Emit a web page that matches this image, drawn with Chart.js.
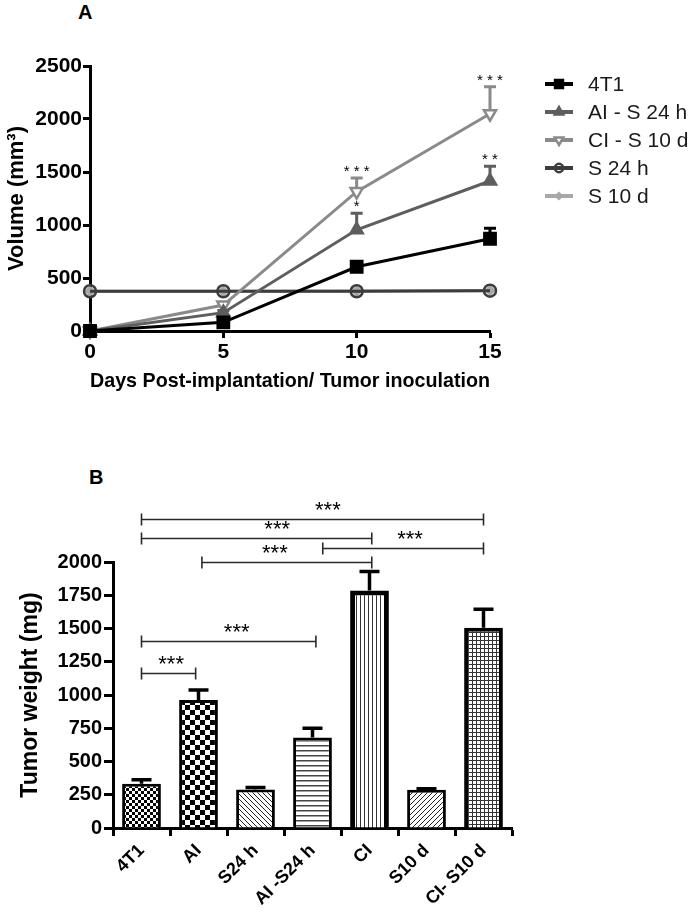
<!DOCTYPE html>
<html>
<head>
<meta charset="utf-8">
<script src="https://cdn.jsdelivr.net/npm/chart.js@4"></script>
<style>
  body { margin: 0; background: #fff; width: 698px; height: 913px; position: relative; overflow: hidden; }
  canvas { position: absolute; left: 0; }
  #chartA { top: 0; }
  #chartB { top: 440px; }
  .panel { position: absolute; font: bold 20px "Liberation Sans", Arial, sans-serif; color: #000; line-height: 20px; }
</style>
</head>
<body>
<div class="panel" style="left:78px; top:2px;">A</div>
<div class="panel" style="left:89px; top:467px;">B</div>
<canvas id="chartA" width="698" height="400"></canvas>
<canvas id="chartB" width="698" height="473"></canvas>
<script>
// panel A: tumour volume over time
var days = [0, 5, 10, 15];
var vol4T1 = [0, 82, 606, 870];
var sem4T1 = [0, 12, 30, 100];
var volAI = [0, 173, 955, 1415];
var semAI = [0, 20, 155, 140];
var volCI = [0, 245, 1315, 2050];
var semCI = [0, 20, 128, 255];
var volS24 = [375, 375, 375, 380];
var volS10 = [375, 375, 378, 382];
var starsAI = ['', '', '*', '* *'];
var starsCI = ['', '', '* * *', '* * *'];
var volTicks = [0, 500, 1000, 1500, 2000, 2500];

// panel B: tumour weight per group
var groups = ['4T1', 'AI', 'S24 h', 'AI -S24 h', 'CI', 'S10 d', 'CI- S10 d'];
var weight = [332, 963, 290, 680, 1785, 287, 1505];
var weightSem = [30, 75, 15, 70, 143, 8, 140];
var weightTicks = [0, 250, 500, 750, 1000, 1250, 1500, 1750, 2000];
// [from group, to group, level (mg), label position]
var brackets = [
  [0, 6, 2320, 3.27],
  [0, 4.04, 2180, 2.38],
  [3.18, 6, 2103, 4.71],
  [1.06, 4.04, 2000, 2.34],
  [0, 3.06, 1407, 1.67],
  [0, 0.95, 1165, 0.52]
];

var FONT = '"Liberation Sans", Arial, sans-serif';
Chart.defaults.font.family = FONT;
Chart.defaults.color = '#000';

function pts(ys) { return days.map(function (d, i) { return {x: d, y: ys[i]}; }); }
function plain(v) { return String(v); }

var seriesA = [
  {label: '4T1', data: pts(vol4T1), sem: sem4T1, color: '#000000', pointStyle: 'rect', radius: 8, rot: 0, fill: '#000000'},
  {label: 'AI - S 24 h', data: pts(volAI), sem: semAI, stars: starsAI, color: '#5e5e5e', pointStyle: 'triangle', radius: 7, rot: 0, fill: '#5e5e5e'},
  {label: 'CI - S 10 d', data: pts(volCI), sem: semCI, stars: starsCI, color: '#8a8a8a', pointStyle: 'triangle', radius: 7, rot: 180, fill: '#ffffff'},
  {label: 'S 24 h', data: pts(volS24), color: '#3c3c3c', pointStyle: 'circle', radius: 6, rot: 0, fill: 'rgba(0,0,0,0)'},
  {label: 'S 10 d', data: pts(volS10), color: '#a8a8a8', pointStyle: 'rectRot', radius: 4, rot: 0, fill: '#a8a8a8'}
];

var errPluginA = {
  id: 'errA',
  beforeDatasetsDraw: function (chart) {
    var ctx = chart.ctx, x = chart.scales.x, y = chart.scales.y;
    chart.data.datasets.forEach(function (ds) {
      if (!ds.sem) return;
      ds.sem.forEach(function (e, j) {
        if (!e) return;
        var px = x.getPixelForValue(days[j]);
        var y0 = y.getPixelForValue(ds.data[j].y);
        var y1 = y.getPixelForValue(ds.data[j].y + e);
        ctx.save();
        ctx.strokeStyle = ds.borderColor;
        ctx.lineWidth = 3;
        ctx.beginPath();
        ctx.moveTo(px, y0); ctx.lineTo(px, y1);
        ctx.moveTo(px - 6, y1); ctx.lineTo(px + 6, y1);
        ctx.stroke();
        ctx.restore();
      });
    });
  },
  afterDatasetsDraw: function (chart) {
    var ctx = chart.ctx, x = chart.scales.x, y = chart.scales.y;
    ctx.save();
    ctx.font = '15px ' + FONT;
    ctx.fillStyle = '#000';
    ctx.textAlign = 'center';
    ctx.textBaseline = 'alphabetic';
    chart.data.datasets.forEach(function (ds) {
      if (!ds.stars) return;
      ds.stars.forEach(function (s, j) {
        if (!s) return;
        var px = x.getPixelForValue(days[j]);
        var top = y.getPixelForValue(ds.data[j].y + ds.sem[j]);
        ctx.fillText(s, px, top - 2);
      });
    });
    ctx.restore();
  }
};

var legendPluginA = {
  id: 'legendA',
  afterDraw: function (chart) {
    var ctx = chart.ctx;
    seriesA.forEach(function (s, i) {
      var yy = 84 + i * 28;
      ctx.save();
      ctx.strokeStyle = s.color;
      ctx.lineWidth = 4;
      ctx.beginPath(); ctx.moveTo(545, yy); ctx.lineTo(573, yy); ctx.stroke();
      ctx.fillStyle = s.fill;
      ctx.lineWidth = 2.5;
      Chart.helpers.drawPoint(ctx, {pointStyle: s.pointStyle, rotation: s.rot, radius: s.radius * 0.7, borderWidth: 2.5}, 559, yy);
      ctx.fillStyle = '#1a1a1a';
      ctx.font = '21px ' + FONT;
      ctx.textBaseline = 'middle';
      ctx.textAlign = 'left';
      ctx.fillText(s.label, 588, yy + 1);
      ctx.restore();
    });
  }
};

new Chart(document.getElementById('chartA'), {
  type: 'line',
  data: {
    datasets: seriesA.map(function (s, i) {
      return {
        label: s.label, data: s.data, sem: s.sem, stars: s.stars,
        borderColor: s.color, backgroundColor: s.fill,
        borderWidth: 3, tension: 0,
        pointStyle: s.pointStyle, pointRotation: s.rot, pointRadius: s.radius,
        pointBorderWidth: 2.5, pointBorderColor: s.color, pointBackgroundColor: s.fill,
        clip: false, order: i
      };
    })
  },
  options: {
    responsive: false,
    animation: false,
    layout: {padding: {left: 0, right: 208, top: 66, bottom: 6}},
    plugins: {legend: {display: false}, tooltip: {enabled: false}},
    scales: {
      x: {
        type: 'linear', min: 0, max: 15,
        ticks: {stepSize: 5, padding: 2, font: {size: 21, weight: 'bold'}, color: '#000', callback: plain},
        grid: {drawOnChartArea: false, tickLength: 7, tickWidth: 3, tickColor: '#000'},
        border: {color: '#000', width: 3},
        title: {display: true, text: 'Days Post-implantation/ Tumor inoculation', font: {size: 21, weight: 'bold'}, color: '#000', padding: 0},
        afterFit: function (s) { s.height = 63; }
      },
      y: {
        min: 0, max: 2500,
        afterBuildTicks: function (s) { s.ticks = volTicks.map(function (v) { return {value: v}; }); },
        ticks: {padding: 1, font: {size: 21, weight: 'bold'}, color: '#000', callback: plain},
        grid: {drawOnChartArea: false, tickLength: 7, tickWidth: 3, tickColor: '#000'},
        border: {color: '#000', width: 3},
        title: {display: true, text: 'Volume (mm³)', font: {size: 22, weight: 'bold'}, color: '#000', padding: {top: 4, bottom: 0}},
        afterFit: function (s) { s.width = 90; }
      }
    }
  },
  plugins: [errPluginA, legendPluginA]
});

// fill patterns for the bars
function pattern(kind) {
  var c = document.createElement('canvas');
  var g;
  var s = {check3: 6, check5: 10, diagDown: 5, diagUp: 5, hlines: 5, vlines: 4, grid: 4}[kind];
  c.width = s; c.height = s;
  g = c.getContext('2d');
  g.fillStyle = '#fff';
  g.fillRect(0, 0, s, s);
  g.fillStyle = '#000';
  g.strokeStyle = '#222';
  g.lineWidth = 1;
  if (kind === 'check3' || kind === 'check5') {
    var h = s / 2;
    g.fillRect(0, 0, h, h);
    g.fillRect(h, h, h, h);
  } else if (kind === 'diagDown' || kind === 'diagUp') {
    g.beginPath();
    for (var k = -1; k <= 1; k++) {
      if (kind === 'diagDown') { g.moveTo(k * s, 0); g.lineTo(k * s + s, s); }
      else { g.moveTo(k * s, s); g.lineTo(k * s + s, 0); }
    }
    g.stroke();
  } else if (kind === 'hlines') {
    g.fillStyle = '#444';
    g.fillRect(0, 0, s, 1.5);
  } else if (kind === 'vlines') {
    g.fillStyle = '#333';
    g.fillRect(0, 0, 1, s);
  } else if (kind === 'grid') {
    g.fillStyle = '#333';
    g.fillRect(0, 0, 1, s);
    g.fillRect(0, 0, s, 1);
  }
  return document.createElement('canvas').getContext('2d').createPattern(c, 'repeat');
}
var fills = ['check3', 'check5', 'diagDown', 'hlines', 'vlines', 'diagUp', 'grid'].map(pattern);

var errPluginB = {
  id: 'errB',
  afterDatasetsDraw: function (chart) {
    var ctx = chart.ctx, y = chart.scales.y;
    chart.getDatasetMeta(0).data.forEach(function (bar, i) {
      var y0 = y.getPixelForValue(weight[i]);
      var y1 = y.getPixelForValue(weight[i] + weightSem[i]);
      ctx.save();
      ctx.strokeStyle = '#000';
      ctx.lineWidth = 3.5;
      ctx.beginPath();
      ctx.moveTo(bar.x, y0); ctx.lineTo(bar.x, y1);
      ctx.moveTo(bar.x - 10, y1); ctx.lineTo(bar.x + 10, y1);
      ctx.stroke();
      ctx.restore();
    });
  },
  afterDraw: function (chart) {
    var ctx = chart.ctx, x = chart.scales.x, y = chart.scales.y;
    ctx.save();
    ctx.strokeStyle = '#2a2a2a';
    ctx.lineWidth = 1.6;
    ctx.fillStyle = '#000';
    ctx.font = '22px ' + FONT;
    ctx.textAlign = 'center';
    ctx.textBaseline = 'alphabetic';
    brackets.forEach(function (b) {
      var x0 = x.getPixelForValue(b[0]);
      var x1 = x.getPixelForValue(b[1]);
      var yy = Math.round(y.getPixelForValue(b[2])) + 0.5;
      ctx.beginPath();
      ctx.moveTo(x0, yy); ctx.lineTo(x1, yy);
      ctx.moveTo(x0, yy - 6); ctx.lineTo(x0, yy + 6);
      ctx.moveTo(x1, yy - 6); ctx.lineTo(x1, yy + 6);
      ctx.stroke();
      ctx.fillText('***', x.getPixelForValue(b[3]), yy - 3);
    });
    ctx.restore();
  }
};

new Chart(document.getElementById('chartB'), {
  type: 'bar',
  data: {
    labels: groups,
    datasets: [{
      data: weight,
      backgroundColor: fills,
      borderColor: '#000',
      borderWidth: [3, 3, 3, 3, 5, 3, 4],
      borderSkipped: 'start',
      barPercentage: 0.68,
      categoryPercentage: 1
    }]
  },
  options: {
    responsive: false,
    animation: false,
    layout: {padding: {left: 0, right: 186, top: 122, bottom: 0}},
    plugins: {legend: {display: false}, tooltip: {enabled: false}},
    scales: {
      x: {
        ticks: {autoSkip: false, minRotation: 45, maxRotation: 45, padding: 4, font: {size: 18, weight: 'bold'}, color: '#000'},
        grid: {drawOnChartArea: false, tickLength: 8, tickWidth: 3, tickColor: '#000'},
        border: {color: '#000', width: 3},
        afterFit: function (s) { s.height = 85; }
      },
      y: {
        min: 0, max: 2000,
        afterBuildTicks: function (s) { s.ticks = weightTicks.map(function (v) { return {value: v}; }); },
        ticks: {padding: 2, font: {size: 20, weight: 'bold'}, color: '#000', callback: plain},
        grid: {drawOnChartArea: false, tickLength: 9, tickWidth: 3, tickColor: '#000'},
        border: {color: '#000', width: 3},
        title: {display: true, text: 'Tumor weight (mg)', font: {size: 23, weight: 'bold'}, color: '#000', padding: {top: 17, bottom: 0}},
        afterFit: function (s) { s.width = 113; }
      }
    }
  },
  plugins: [errPluginB]
});
</script>
</body>
</html>
